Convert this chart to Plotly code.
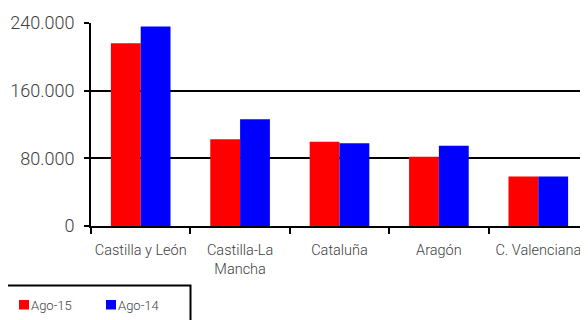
import plotly.graph_objects as go

categories = ["Castilla y León", "Castilla-La Mancha", "Cataluña", "Aragón", "C. Valenciana"]
tick_labels = ["Castilla y León", "Castilla-La<br>Mancha", "Cataluña", "Aragón", "C. Valenciana"]
series_names = ["Ago-15", "Ago-14"]
ago15 = [216000, 102500, 99700, 82000, 58500]
ago14 = [236000, 126100, 97800, 95000, 58500]
colors = ["#FF0000", "#0000FF"]
y_ticks = [0, 80000, 160000, 240000]

FONT = "Roboto, sans-serif"

fig = go.Figure()
for name, vals, col in zip(series_names, [ago15, ago14], colors):
    fig.add_trace(go.Bar(x=categories, y=vals, name=name, marker=dict(color=col, line=dict(width=0)),
                         showlegend=False))

# page body has an 8px margin; work in window pixels and convert
OFF = 8
# plot area in window pixels: x 91..588, y 23..226
L, R, T, B = 91, 588, 23, 226
W, H = R - L, B - T
def px(x):
    return (x - L) / W
def py(y):
    return (B - y) / H

shapes = [dict(type="rect", xref="paper", yref="paper", x0=px(-12), x1=px(190.5), y0=py(285.5), y1=py(340),
               line=dict(color="black", width=2), fillcolor="rgba(0,0,0,0)", layer="above")]
annotations = []
legend_x = [19, 106]
for i, (name, col) in enumerate(zip(series_names, colors)):
    x0 = legend_x[i]
    shapes.append(dict(type="rect", xref="paper", yref="paper", x0=px(x0), x1=px(x0 + 10),
                       y0=py(300), y1=py(309.5), line=dict(width=0), fillcolor=col, layer="above"))
    annotations.append(dict(text=name, xref="paper", yref="paper", x=px(x0 + 10), y=py(305),
                            xanchor="left", yanchor="middle", showarrow=False,
                            font=dict(family=FONT, size=13, color="#404040", weight=300)))

fig.update_layout(
    width=588, height=320,
    margin=dict(l=L - OFF, r=588 + OFF - R, t=T - OFF, b=320 + OFF - B),
    barmode="group", bargap=0.4, bargroupgap=0,
    plot_bgcolor="white", paper_bgcolor="white",
    separators=",.",
    shapes=shapes, annotations=annotations,
    font=dict(family=FONT, color="#404040"),
)
fig.update_yaxes(range=[0, 240000], tickvals=y_ticks, tickformat=",d",
                 showgrid=True, gridcolor="black", gridwidth=2,
                 showline=True, linecolor="black", linewidth=2,
                 ticks="outside", ticklen=5, tickwidth=2, tickcolor="black",
                 ticklabelstandoff=6,
                 tickfont=dict(family=FONT, size=18, color="#404040", weight=300),
                 zeroline=False, fixedrange=True, automargin=False)
fig.update_xaxes(tickmode="array", tickvals=categories, ticktext=tick_labels, tickangle=0,
                 showline=True, linecolor="black", linewidth=2,
                 ticks="outside", tickson="boundaries", ticklen=6, tickwidth=2, tickcolor="black",
                 ticklabelstandoff=10,
                 tickfont=dict(family=FONT, size=14.5, color="#404040", weight=300),
                 showgrid=False, fixedrange=True, automargin=False)

fig.write_html("out.html")
